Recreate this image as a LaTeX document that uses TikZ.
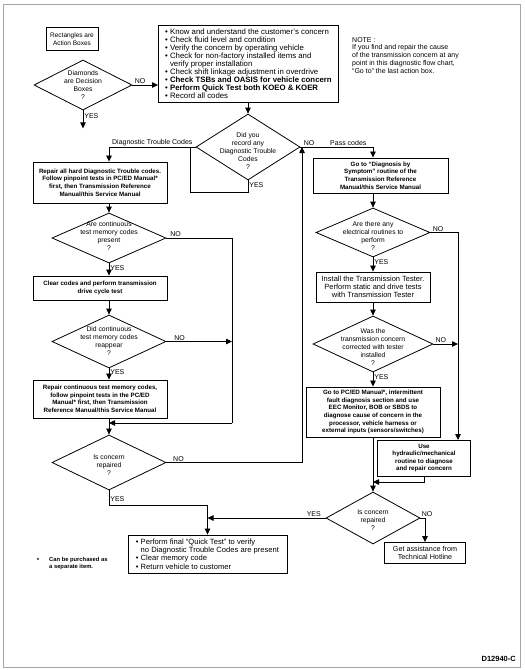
\documentclass[tikz,border=0pt]{standalone}
\usepackage{fontspec}
\setmainfont{Liberation Sans}
\usetikzlibrary{arrows.meta,shapes.geometric,positioning}
\newcommand{\bul}{\textbullet\ }
\tikzset{
  action/.style={draw, line width=0.9pt, align=center, inner sep=2pt,
    font=\fontsize{6.2}{7.6}\selectfont\bfseries},
  plainbox/.style={action, font=\fontsize{7.5}{8}\selectfont},
  decision/.style={draw, diamond, line width=0.8pt, inner sep=0pt},
  query/.style={align=center, inner sep=0pt, font=\fontsize{6.8}{7.9}\selectfont},
  flow/.style={-{Triangle[length=6pt,width=5.5pt]}, line width=0.8pt},
  link/.style={line width=0.8pt},
  tag/.style={font=\fontsize{7}{7.5}\selectfont, inner sep=1pt}
}
\begin{document}
\begin{tikzpicture}[x=1pt,y=-1pt]
  \useasboundingbox (0,0) rectangle (525,670);
  \draw[gray!70, line width=0.8pt] (3,4) rectangle (520,667);

  % legend
  \node[plainbox, font=\fontsize{6.5}{8}\selectfont, minimum width=52, minimum height=23] (rect) at (72,39) {Rectangles are\\Action Boxes};
  \node[decision, minimum width=98, minimum height=50] (d1) at (83,85) {};
  \node[query] (d1t) at (83,85) {Diamonds\\are Decision\\Boxes\\?};

  % start
  \node[plainbox, align=left, anchor=north west, font=\fontsize{7.8}{8}\selectfont,
    minimum width=180, minimum height=77] (start) at (158,25)
    {\bul Know and understand the customer's concern\\
     \bul Check fluid level and condition\\
     \bul Verify the concern by operating vehicle\\
     \bul Check for non-factory installed items and\\
     \phantom{\bul}verify proper installation\\
     \bul Check shift linkage adjustment in overdrive\\
     \bul\textbf{Check TSBs and OASIS for vehicle concern}\\
     \bul\textbf{Perform Quick Test both KOEO \& KOER}\\
     \bul Record all codes};
  \node[anchor=north west, align=left, inner sep=0pt, font=\fontsize{7}{7.8}\selectfont] (note) at (352,37)
    {NOTE :\\If you find and repair the cause\\of the transmission concern at any\\point in this diagnostic flow chart,\\``Go to'' the last action box.};

  \node[decision, minimum width=104, minimum height=66] (d2) at (248,147) {};
  \node[query] (d2t) at (248,151) {Did you\\record any\\Diagnostic Trouble\\Codes\\?};

  % left column
  \node[action, minimum width=134, minimum height=41] (l1) at (100,182.5)
    {Repair all hard Diagnostic Trouble codes.\\Follow pinpoint tests in PC/ED Manual*\\first, then Transmission Reference\\Manual/this Service Manual};
  \node[decision, minimum width=114, minimum height=50] (d3) at (109,238) {};
  \node[query] (d3t) at (109,236) {Are continuous\\test memory codes\\present\\?};
  \node[action, minimum width=134, minimum height=24] (l2) at (100,288)
    {Clear codes and perform transmission\\drive cycle test};
  \node[decision, minimum width=114, minimum height=53] (d4) at (109,341.5) {};
  \node[query] (d4t) at (109,341) {Did continuous\\test memory codes\\reappear\\?};
  \node[action, minimum width=134, minimum height=38] (l3) at (100,399)
    {Repair continuous test memory codes,\\follow pinpoint tests in the PC/ED\\Manual* first, then Transmission\\Reference Manual/this Service Manual};
  \node[decision, minimum width=114, minimum height=55] (d5) at (109,462.5) {};
  \node[query] (d5t) at (109,465) {Is concern\\repaired\\?};
  \node[plainbox, align=left, font=\fontsize{7.6}{8.4}\selectfont, minimum width=159, minimum height=38] (fin) at (207.5,554)
    {\bul Perform final ``Quick Test'' to verify\\
     \phantom{\bul}no Diagnostic Trouble Codes are present\\
     \bul Clear memory code\\
     \bul Return vehicle to customer};

  % right column
  \node[action, minimum width=135, minimum height=35] (r1) at (380.5,175.5)
    {Go to ``Diagnosis by\\Symptom'' routine of the\\Transmission Reference\\Manual/this Service Manual};
  \node[decision, minimum width=114, minimum height=49] (d6) at (373,232.5) {};
  \node[query] (d6t) at (373,236) {Are there any\\electrical routines to\\perform\\?};
  \node[plainbox, minimum width=114, minimum height=30] (r2) at (373,287)
    {Install the Transmission Tester.\\Perform static and drive tests\\with Transmission Tester};
  \node[decision, minimum width=120, minimum height=56] (d7) at (373,344) {};
  \node[query] (d7t) at (373,347) {Was the\\transmission concern\\corrected with tester\\installed\\?};
  \node[action, minimum width=134, minimum height=50] (r3) at (373,412)
    {Go to PC/ED Manual*, intermittent\\fault diagnosis section and use\\EEC Monitor, BOB or SBDS to\\diagnose cause of concern in the\\processor, vehicle harness or\\external inputs (sensors/switches)};
  \node[action, minimum width=93, minimum height=36] (use) at (424,458)
    {Use\\hydraulic/mechanical\\routine to diagnose\\and repair concern};
  \node[decision, minimum width=94, minimum height=52] (d8) at (373,518) {};
  \node[query] (d8t) at (373,520) {Is concern\\repaired\\?};
  \node[plainbox, font=\fontsize{7.2}{8.2}\selectfont, minimum width=81, minimum height=21] (help) at (425,553)
    {Get assistance from\\Technical Hotline};

  % footnote and figure number
  \node[font=\fontsize{6}{7}\selectfont\bfseries, inner sep=0pt] (star) at (38,560) {*};
  \node[anchor=north west, align=left, inner sep=0pt, font=\fontsize{5.8}{6.6}\selectfont\bfseries] (fnote) at (49,557)
    {Can be purchased as\\a separate item.};
  \node[anchor=south east, inner sep=0pt, font=\fontsize{7.5}{8}\selectfont\bfseries] (fig) at (516,662) {D12940-C};

  % joints
  \coordinate (up) at (302,147);
  \coordinate (dj) at (190,147);
  \coordinate (lj) at (232,423);
  \coordinate (rj) at (458,440);
  \coordinate (rb) at (373,482);

  % connectors
  \draw[flow] (d1.east) -- node[tag, above, pos=0.3] (n1) {NO} (d1.east -| start.west);
  \draw[flow] (d1.south) -- node[tag, right, pos=0.3] (y1) {YES} ++(0,18);
  \draw[flow] (start.south -| d2.north) -- (d2.north);
  \draw[flow] (d2.west) -| node[tag, above, pos=0.25] (dtc) {Diagnostic Trouble Codes} (l1.north -| d3.north);
  \draw[link] (d2.south) -- node[tag, right, pos=0.4] (y2) {YES} ++(0,12) -| (dj);
  \draw[flow] (d2.east) -| node[tag, above, pos=0.06] (n2) {NO} node[tag, above, pos=0.33] (pass) {Pass codes} (r1.north -| d6.north);
  \draw[flow] (l1.south -| d3.north) -- (d3.north);
  \draw[link] (d3.east) -| node[tag, anchor=south west, pos=0.02] (n3) {NO} (lj);
  \draw[flow] (d3.south) -- node[tag, right, pos=0.35] (y3) {YES} (l2.north -| d3.south);
  \draw[flow] (l2.south -| d4.north) -- (d4.north);
  \draw[flow] (d4.east) -- node[tag, above, pos=0.2] (n4) {NO} (d4.east -| lj);
  \draw[flow] (d4.south) -- node[tag, right, pos=0.35] (y4) {YES} (l3.north -| d4.south);
  \draw[flow] (l3.south -| d5.north) -- (d5.north);
  \draw[flow] (lj) -- (lj -| d5.north);
  \draw[flow] (d5.east) -| node[tag, anchor=south west, pos=0.02] (n5) {NO} (up);
  \draw[flow] (d5.south) -- node[tag, right, pos=0.6] (y5) {YES} ++(0,15) -| (fin.north);
  \draw[flow] (r1.south -| d6.north) -- (d6.north);
  \draw[flow] (d6.east) -| node[tag, anchor=south west, pos=0.02] (n6) {NO} (rj);
  \draw[flow] (d6.south) -- node[tag, right, pos=0.3] (y6) {YES} (r2.north);
  \draw[flow] (r2.south) -- (d7.north);
  \draw[flow] (d7.east) -- node[tag, above, pos=0.3] (n7) {NO} (d7.east -| rj);
  \draw[flow] (d7.south) -- node[tag, right, pos=0.3] (y7) {YES} (r3.north);
  \draw[flow] (r3.south) -- (d8.north);
  \draw[flow] (use.south) |- (rb);
  \draw[flow] (d8.west) -- node[tag, above, pos=0.1] (y8) {YES} (d8.west -| fin.north);
  \draw[flow] (d8.east) -| node[tag, anchor=south west, pos=0] (n8) {NO} (help.north);
\end{tikzpicture}
\end{document}
